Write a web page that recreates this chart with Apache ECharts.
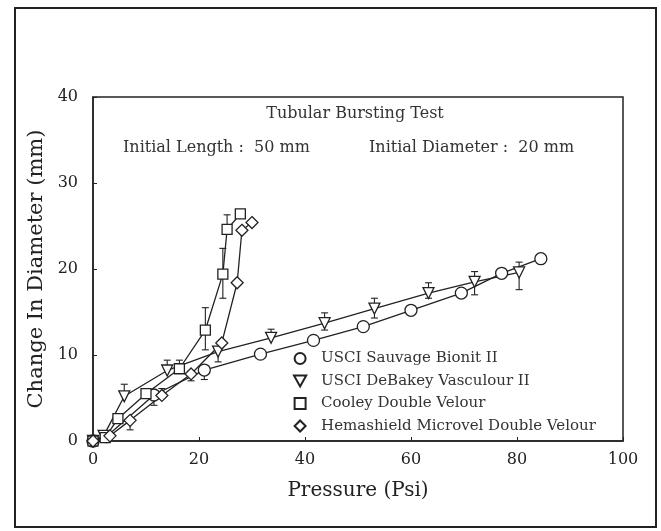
<!DOCTYPE html>
<html>
<head>
<meta charset="utf-8">
<script src="https://cdn.jsdelivr.net/npm/echarts@6/dist/echarts.min.js"></script>
<style>
  html, body { margin: 0; padding: 0; background: #fff; }
  #chart { width: 661px; height: 531px; }
</style>
</head>
<body>
<div id="chart"></div>
<script>
// series names
const seriesNames = [
  'USCI Sauvage Bionit II',
  'USCI DeBakey Vasculour II',
  'Cooley Double Velour',
  'Hemashield Microvel Double Velour'
];

// pressure (Psi) / change in diameter (mm)
const sauvageX = [0, 2.5, 11.5, 21, 31.6, 41.6, 51, 60, 69.5, 77.1, 84.5];
const sauvageY = [0, 0.5, 5.35, 8.25, 10.1, 11.7, 13.3, 15.2, 17.2, 19.5, 21.2];
const sauvageUp = [0, 0, 0, 0, 0, 0, 0, 0, 0, 0, 0];
const sauvageDown = [0, 0, 1.2, 1.1, 0, 0, 0, 0, 0, 0, 0];

const debakeyX = [0, 2, 5.9, 14, 23.6, 33.6, 43.7, 53.1, 63.3, 72, 80.4];
const debakeyY = [0, 0.6, 5.2, 8.2, 10.4, 12.0, 13.7, 15.4, 17.2, 18.5, 19.6];
const debakeyUp = [0, 0, 1.4, 1.2, 0, 1.0, 1.2, 1.2, 1.2, 1.2, 1.2];
const debakeyDown = [0, 0, 0, 0, 1.2, 0, 0.8, 1.1, 0.6, 1.5, 2.0];

const cooleyX = [0, 2.3, 4.7, 10, 16.3, 21.2, 24.5, 25.3, 27.8];
const cooleyY = [0, 0.4, 2.6, 5.5, 8.4, 12.9, 19.4, 24.6, 26.4];
const cooleyUp = [0, 0, 0, 0, 1.0, 2.6, 3.0, 1.7, 0];
const cooleyDown = [0, 0, 0, 0, 0, 2.3, 2.8, 0, 0];

const hemaX = [0, 3.2, 7, 13, 18.5, 24.3, 27.2, 28.1, 30];
const hemaY = [0, 0.6, 2.4, 5.3, 7.8, 11.4, 18.4, 24.5, 25.4];
const hemaUp = [0, 0, 0, 0.8, 0, 0, 0, 0, 0];
const hemaDown = [0, 0, 1.1, 0, 0.8, 0, 0, 0, 0];

const xTicks = [0, 20, 40, 60, 80, 100];
const yTicks = [0, 10, 20, 30, 40];

const ink = '#222';
const font = 'DejaVu Serif';
const triDown = 'path://M0,0L10,0L5,9Z';
const square = 'path://M0,0L10,0L10,10L0,10Z';
const diamond = 'path://M5,0L10,5L5,10L0,5Z';

function pts(xs, ys) {
  return xs.map((x, i) => [x, ys[i]]);
}
function errPts(xs, ys, up, down) {
  return xs.map((x, i) => [x, ys[i], up[i], down[i]]);
}

function lineSeries(name, xs, ys, symbol, size) {
  return {
    name: name,
    type: 'line',
    data: pts(xs, ys),
    symbol: symbol,
    symbolSize: size,
    showAllSymbol: true,
    z: 3,
    itemStyle: { color: '#fff', borderColor: ink, borderWidth: 1.3 },
    lineStyle: { color: ink, width: 1.3 },
    emphasis: { disabled: true }
  };
}

function errSeries(xs, ys, up, down) {
  return {
    type: 'custom',
    z: 2,
    silent: true,
    data: errPts(xs, ys, up, down),
    renderItem: function (params, api) {
      const x = api.value(0), y = api.value(1);
      const u = api.value(2), d = api.value(3);
      const c = api.coord([x, y]);
      const top = api.coord([x, y + u]);
      const bot = api.coord([x, y - d]);
      const cap = 3.5;
      const kids = [];
      const style = { stroke: ink, lineWidth: 1.1 };
      if (u > 0) {
        kids.push({ type: 'line', shape: { x1: c[0], y1: c[1], x2: top[0], y2: top[1] }, style: style });
        kids.push({ type: 'line', shape: { x1: top[0] - cap, y1: top[1], x2: top[0] + cap, y2: top[1] }, style: style });
      }
      if (d > 0) {
        kids.push({ type: 'line', shape: { x1: c[0], y1: c[1], x2: bot[0], y2: bot[1] }, style: style });
        kids.push({ type: 'line', shape: { x1: bot[0] - cap, y1: bot[1], x2: bot[0] + cap, y2: bot[1] }, style: style });
      }
      return { type: 'group', children: kids };
    }
  };
}

const noteFont = '16px "DejaVu Serif"';

const chart = echarts.init(document.getElementById('chart'));
chart.setOption({
  backgroundColor: '#fff',
  animation: false,
  grid: {
    left: 93, right: 38, top: 97, bottom: 90,
    show: true, borderColor: ink, borderWidth: 1.5, backgroundColor: 'transparent'
  },
  graphic: [
    { type: 'rect', shape: { x: 15, y: 8, width: 641, height: 519 },
      style: { fill: 'none', stroke: ink, lineWidth: 2 } },
    { type: 'text', x: 355, y: 114, style: { text: 'Tubular Bursting Test', font: noteFont, fill: '#333', align: 'center', verticalAlign: 'middle' } },
    { type: 'text', x: 123, y: 148, style: { text: 'Initial Length :  50 mm', font: noteFont, fill: '#333', align: 'left', verticalAlign: 'middle' } },
    { type: 'text', x: 369, y: 148, style: { text: 'Initial Diameter :  20 mm', font: noteFont, fill: '#333', align: 'left', verticalAlign: 'middle' } }
  ],
  legend: {
    orient: 'vertical',
    left: 288,
    top: 346,
    itemWidth: 32,
    itemHeight: 11,
    itemGap: 7.5,
    textStyle: { fontFamily: font, fontSize: 15, color: '#333' },
    data: [
      { name: seriesNames[0], icon: 'circle' },
      { name: seriesNames[1], icon: triDown },
      { name: seriesNames[2], icon: square },
      { name: seriesNames[3], icon: diamond }
    ]
  },
  xAxis: {
    type: 'value',
    min: xTicks[0], max: xTicks[xTicks.length - 1], interval: 20,
    name: 'Pressure (Psi)',
    nameLocation: 'middle',
    nameGap: 40,
    nameTextStyle: { fontFamily: font, fontSize: 20, color: ink },
    axisLine: { lineStyle: { color: ink, width: 1.5 } },
    axisTick: { inside: true, length: 4, lineStyle: { color: ink } },
    axisLabel: { fontFamily: font, fontSize: 16, color: ink, margin: 11 },
    splitLine: { show: false }
  },
  yAxis: {
    type: 'value',
    min: yTicks[0], max: yTicks[yTicks.length - 1], interval: 10,
    name: 'Change In Diameter (mm)',
    nameLocation: 'middle',
    nameGap: 46,
    nameTextStyle: { fontFamily: font, fontSize: 21, color: ink },
    axisLine: { lineStyle: { color: ink, width: 1.5 } },
    axisTick: { inside: true, length: 4, lineStyle: { color: ink } },
    axisLabel: { fontFamily: font, fontSize: 16, color: ink, margin: 15 },
    splitLine: { show: false }
  },
  series: [
    errSeries(sauvageX, sauvageY, sauvageUp, sauvageDown),
    errSeries(debakeyX, debakeyY, debakeyUp, debakeyDown),
    errSeries(cooleyX, cooleyY, cooleyUp, cooleyDown),
    errSeries(hemaX, hemaY, hemaUp, hemaDown),
    lineSeries(seriesNames[0], sauvageX, sauvageY, 'circle', 12),
    lineSeries(seriesNames[1], debakeyX, debakeyY, triDown, 11),
    lineSeries(seriesNames[2], cooleyX, cooleyY, square, 10),
    lineSeries(seriesNames[3], hemaX, hemaY, diamond, 12)
  ]
});
</script>
</body>
</html>
